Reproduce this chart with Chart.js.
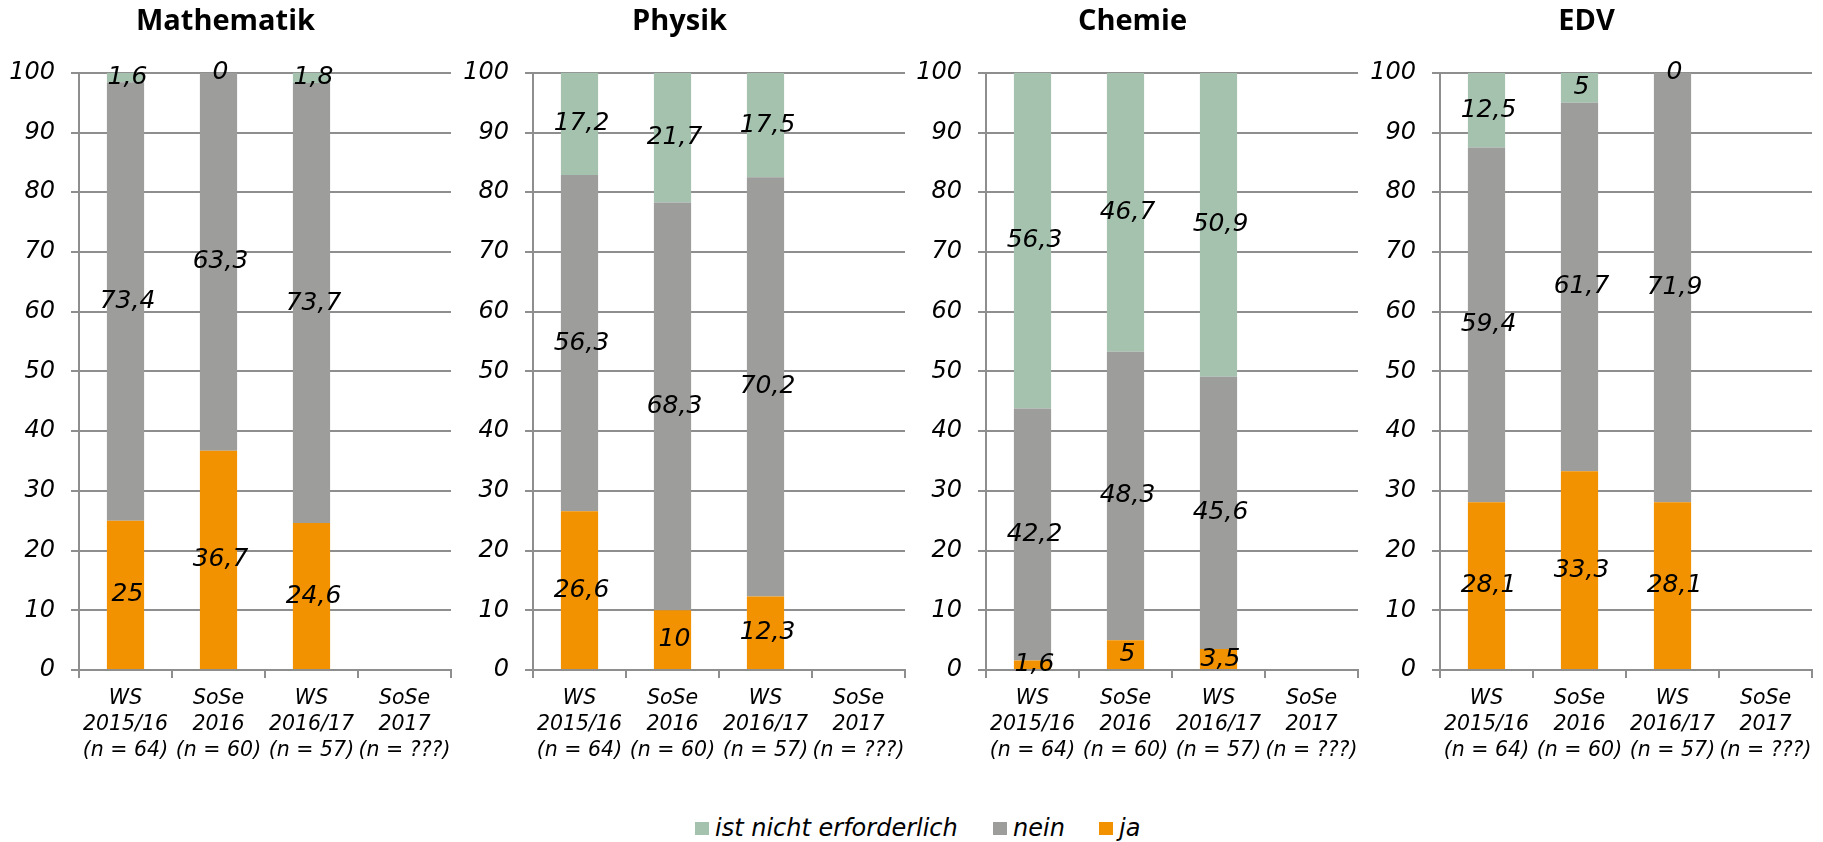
<!DOCTYPE html>
<html>
<head>
<meta charset="utf-8">
<script src="https://cdn.jsdelivr.net/npm/chart.js@4.4.1/dist/chart.umd.min.js"></script>
<style>
  body { margin: 0; background: #fff; width: 1823px; height: 842px; overflow: hidden; position: relative; }
  .panel { position: absolute; top: 0; width: 456px; height: 780px; }
  .legend-item { position: absolute; top: 814px; height: 28px; display: flex; align-items: center; font-family: "DejaVu Sans", sans-serif; font-style: italic; font-size: 24px; color: #000; white-space: nowrap; }
  .legend-item span.box { display: inline-block; width: 14px; height: 13px; margin-right: 6px; }
</style>
</head>
<body>
<div class="panel" style="left:0px"><canvas id="c0" width="456" height="780"></canvas></div>
<div class="panel" style="left:454px"><canvas id="c1" width="456" height="780"></canvas></div>
<div class="panel" style="left:907px"><canvas id="c2" width="456" height="780"></canvas></div>
<div class="panel" style="left:1361px"><canvas id="c3" width="456" height="780"></canvas></div>

<div class="legend-item" style="left:695px"><span class="box" style="background:#A5C2AF"></span>ist nicht erforderlich</div>
<div class="legend-item" style="left:993px"><span class="box" style="background:#9D9D9C"></span>nein</div>
<div class="legend-item" style="left:1099px"><span class="box" style="background:#F39200"></span>ja</div>

<script>
// categories
var subjects = ["Mathematik", "Physik", "Chemie", "EDV"];
var semesters = [
  ["WS", "2015/16", "(n = 64)"],
  ["SoSe", "2016", "(n = 60)"],
  ["WS", "2016/17", "(n = 57)"],
  ["SoSe", "2017", "(n = ???)"]
];

// values in percent, one row per subject
var ja = [
  [25, 36.7, 24.6, null],
  [26.6, 10, 12.3, null],
  [1.6, 5, 3.5, null],
  [28.1, 33.3, 28.1, null]
];
var nein = [
  [73.4, 63.3, 73.7, null],
  [56.3, 68.3, 70.2, null],
  [42.2, 48.3, 45.6, null],
  [59.4, 61.7, 71.9, null]
];
var nichtErforderlich = [
  [1.6, 0, 1.8, null],
  [17.2, 21.7, 17.5, null],
  [56.3, 46.7, 50.9, null],
  [12.5, 5, 0, null]
];

var yTicks = [0, 10, 20, 30, 40, 50, 60, 70, 80, 90, 100];

var colJa = '#F39200';
var colNein = '#9D9D9C';
var colNicht = '#A5C2AF';
var gridCol = '#8E8E8E';
var textFont = 'DejaVu Sans';

// values written in the middle of each segment
var valueLabels = {
  id: 'valueLabels',
  afterDatasetsDraw: function(chart) {
    var ctx = chart.ctx;
    ctx.save();
    ctx.font = 'italic 25px "' + textFont + '"';
    ctx.fillStyle = '#000';
    ctx.textAlign = 'center';
    ctx.textBaseline = 'middle';
    chart.data.datasets.forEach(function(ds, i) {
      chart.getDatasetMeta(i).data.forEach(function(bar, j) {
        var v = ds.data[j];
        if (v === null || v === undefined) return;
        var p = bar.getProps(['x', 'y', 'base'], true);
        ctx.fillText(String(v).replace('.', ','), p.x + 2, (p.y + p.base) / 2);
      });
    });
    ctx.restore();
  }
};

subjects.forEach(function(name, k) {
  new Chart(document.getElementById('c' + k), {
    type: 'bar',
    data: {
      labels: semesters,
      datasets: [
        { label: 'ja', data: ja[k], backgroundColor: colJa },
        { label: 'nein', data: nein[k], backgroundColor: colNein },
        { label: 'ist nicht erforderlich', data: nichtErforderlich[k], backgroundColor: colNicht }
      ]
    },
    options: {
      responsive: false,
      animation: false,
      events: [],
      datasets: {
        bar: { categoryPercentage: 0.8, barPercentage: 0.5, borderWidth: 0 }
      },
      layout: { padding: { left: 0, right: 5, top: 0, bottom: 0 } },
      plugins: {
        legend: { display: false },
        tooltip: { enabled: false },
        title: {
          display: true,
          text: name,
          color: '#000',
          font: { family: 'Open Sans', size: 29, weight: 'bold' },
          padding: { top: 4, bottom: 34 }
        }
      },
      scales: {
        x: {
          stacked: true,
          grid: { display: true, drawOnChartArea: false, tickLength: 8, color: gridCol, lineWidth: 2, offset: true },
          border: { color: gridCol, width: 2 },
          ticks: {
            color: '#000',
            font: { family: textFont, size: 20.5, style: 'italic', lineHeight: 1.27 },
            maxRotation: 0,
            autoSkip: false,
            padding: 8
          },
          afterFit: function(s) {
            s.height = 110;
            s.paddingLeft = 0;
            s.paddingRight = 0;
          }
        },
        y: {
          stacked: true,
          min: 0,
          max: 100,
          afterBuildTicks: function(s) { s.ticks = yTicks.map(function(v) { return { value: v }; }); },
          grid: { color: gridCol, lineWidth: 2, tickLength: 8 },
          border: { color: gridCol, width: 2 },
          ticks: {
            color: '#000',
            font: { family: textFont, size: 24, style: 'italic' },
            padding: 16
          },
          afterFit: function(s) { s.width = 79; }
        }
      }
    },
    plugins: [valueLabels]
  });
});
</script>
</body>
</html>
